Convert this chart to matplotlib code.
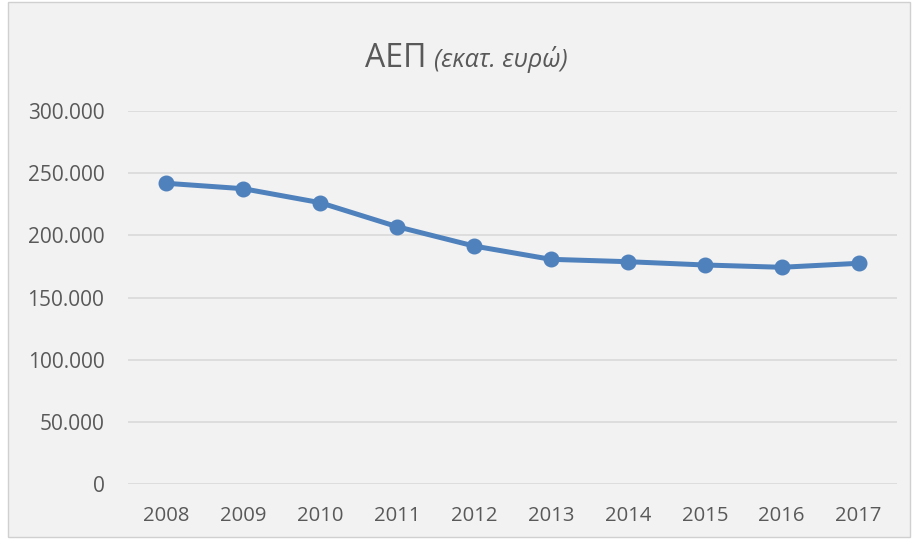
import matplotlib.pyplot as plt
from matplotlib.patches import Rectangle
from matplotlib.ticker import FuncFormatter

years = ['2008', '2009', '2010', '2011', '2012', '2013', '2014', '2015', '2016', '2017']
gdp = [241850, 237500, 226250, 206950, 191400, 180700, 178800, 176150, 174300, 177500]

W, H = 913, 539
text_color = '#595959'
line_color = '#4F81BD'

plt.rcParams['font.family'] = ['Open Sans', 'DejaVu Sans']

fig = plt.figure(figsize=(W / 100, H / 100), dpi=100)
fig.patch.set_facecolor('white')

# chart frame (Excel style)
fig.patches.append(Rectangle((8 / W, 2 / H), 902 / W, 535 / H, transform=fig.transFigure,
                             facecolor='#F2F2F2', edgecolor='#D0D0D0', linewidth=1, zorder=-10))

ax = fig.add_axes([128 / W, 1 - 484 / H, (897 - 128) / W, (484 - 111) / H])
ax.set_facecolor('none')

x = range(len(years))
ax.plot(x, gdp, color=line_color, linewidth=3.6, marker='o', markersize=10.5,
        solid_capstyle='round', zorder=3)

ax.set_xlim(-0.5, len(years) - 0.5)
ax.set_ylim(0, 300000)
ax.set_yticks(range(0, 300001, 50000))
ax.yaxis.set_major_formatter(FuncFormatter(lambda v, p: '{:,.0f}'.format(v).replace(',', '.')))
ax.set_xticks(list(x))
ax.set_xticklabels(years)

ax.grid(axis='y', color='#D9D9D9', linewidth=1.2)
ax.set_axisbelow(True)
for s in ax.spines.values():
    s.set_visible(False)
ax.tick_params(axis='y', length=0, pad=17, labelsize=15, labelcolor=text_color)
ax.tick_params(axis='x', length=0, pad=16, labelsize=14.6, labelcolor=text_color)

# title: upright part + italic part
fig.text(426 / W, 1 - 67 / H, 'ΑΕΠ', ha='right', va='baseline', fontsize=23, color=text_color)
fig.text(434 / W, 1 - 67 / H, '(εκατ. ευρώ)', ha='left', va='baseline', fontsize=18,
         style='italic', color=text_color)

fig.savefig('out.png', dpi=100)
